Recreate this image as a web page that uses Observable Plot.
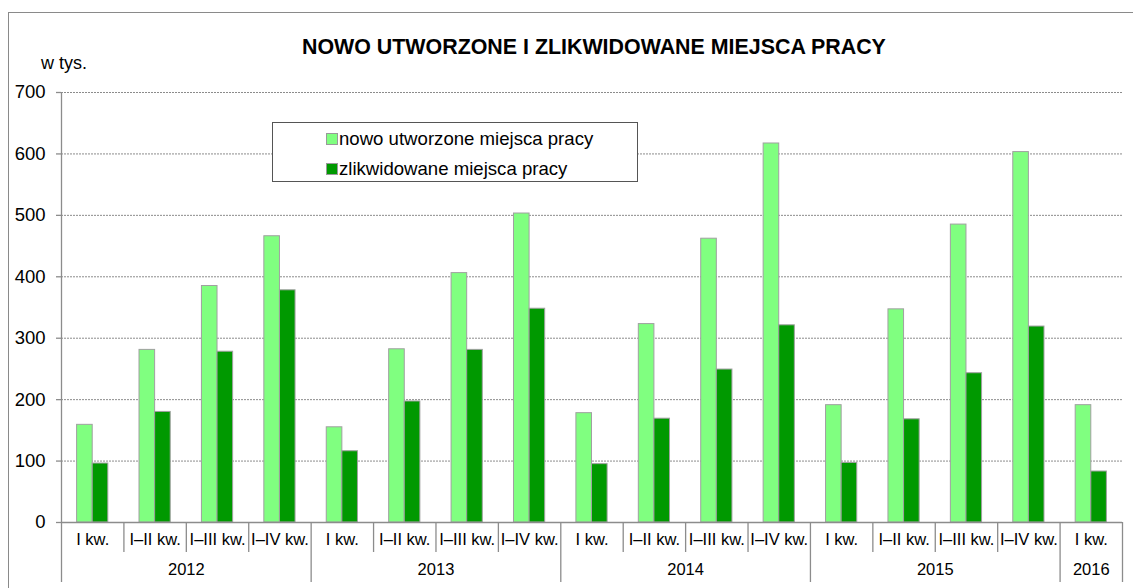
<!DOCTYPE html>
<html>
<head>
<meta charset="utf-8">
<script src="https://cdn.jsdelivr.net/npm/d3@7"></script>
<script src="https://cdn.jsdelivr.net/npm/@observablehq/plot@0.6"></script>
<style>
  html, body { margin: 0; padding: 0; background: #fff; }
  #wrap { position: relative; width: 1133px; height: 588px; overflow: hidden; font-family: "Liberation Sans", Arial, sans-serif; }
  #outer { position: absolute; left: 8px; top: 12px; width: 1200px; height: 700px; border-top: 1.5px solid #8a8a8a; border-left: 1.5px solid #8a8a8a; }
  .abs { position: absolute; white-space: nowrap; line-height: 1; }
  #title { left: 302px; top: 37px; font-size: 21.4px; font-weight: bold; }
  #unit { left: 41px; top: 54px; font-size: 18px; }
  #legend { left: 272px; top: 122px; width: 364px; height: 58px; border: 1.3px solid #555; background: #fff; }
  .sw { position: absolute; width: 10px; height: 10px; border: 1px solid #999; }
  .lt { position: absolute; font-size: 18.6px; line-height: 1; white-space: nowrap; }
  #chart { position: absolute; left: 0; top: 0; }
</style>
</head>
<body>
<div id="wrap">
  <div id="outer"></div>
  <div id="chart"></div>
  <div id="title" class="abs"></div>
  <div id="unit" class="abs"></div>
  <div id="legend" class="abs"></div>
</div>
<script>
const titleText = "NOWO UTWORZONE I ZLIKWIDOWANE MIEJSCA PRACY";
const unitText = "w tys.";
const seriesNames = ["nowo utworzone miejsca pracy", "zlikwidowane miejsca pracy"];
const seriesColors = ["#80ff80", "#009900"];
const quarterLabels = ["I kw.", "I–II kw.", "I–III kw.", "I–IV kw.",
  "I kw.", "I–II kw.", "I–III kw.", "I–IV kw.",
  "I kw.", "I–II kw.", "I–III kw.", "I–IV kw.",
  "I kw.", "I–II kw.", "I–III kw.", "I–IV kw.",
  "I kw."];
const yearLabels = ["2012", "2013", "2014", "2015", "2016"];
const yearCounts = [4, 4, 4, 4, 1];
const nowo = [159, 281, 385, 466, 155, 282, 406, 503, 178, 323, 462, 617, 191, 347, 485, 603, 191];
const zlikw = [96, 180, 278, 378, 116, 197, 281, 348, 95, 169, 249, 321, 97, 168, 243, 319, 83];
const yTicks = [0, 100, 200, 300, 400, 500, 600, 700];

// Build tables
const rows = quarterLabels.map((q, i) => ({i, q, nowo: nowo[i], zlikw: zlikw[i]}));
const years = [];
let start = 0;
yearLabels.forEach((y, k) => { years.push({year: y, start, end: start + yearCounts[k]}); start += yearCounts[k]; });
const yearBounds = [0, ...years.map(d => d.end)];
const allBounds = d3.range(0, quarterLabels.length + 1);
const quarterBounds = allBounds.filter(b => !yearBounds.includes(b));

document.getElementById("title").textContent = titleText;
document.getElementById("unit").textContent = unitText;
const legend = document.getElementById("legend");
seriesNames.forEach((name, k) => {
  const sw = document.createElement("div");
  sw.className = "sw";
  sw.style.left = "53px";
  sw.style.top = (10 + k * 30) + "px";
  sw.style.background = seriesColors[k];
  legend.appendChild(sw);
  const t = document.createElement("div");
  t.className = "lt";
  t.style.left = "66px";
  t.style.top = (7 + k * 30) + "px";
  t.textContent = name;
  legend.appendChild(t);
});

const chart = Plot.plot({
  width: 1133,
  height: 588,
  marginLeft: 61,
  marginRight: 11,
  marginTop: 92,
  marginBottom: 66,
  style: {fontFamily: "'Liberation Sans', Arial, sans-serif", fontSize: "18px", color: "#000", background: "transparent", overflow: "visible"},
  x: {type: "linear", domain: [0, quarterLabels.length], axis: null},
  y: {domain: [0, 700], axis: null},
  marks: [
    Plot.ruleY(yTicks.filter(d => d > 0), {y: d => d, stroke: "#8c8c8c", strokeDasharray: "2,1", strokeWidth: 1}),
    Plot.rectY(rows, {x1: d => d.i + 0.25, x2: d => d.i + 0.5, y1: 0, y2: d => d.nowo, fill: seriesColors[0], stroke: "#a0a0a0", strokeWidth: 1}),
    Plot.rectY(rows, {x1: d => d.i + 0.5, x2: d => d.i + 0.75, y1: 0, y2: d => d.zlikw, fill: seriesColors[1], stroke: "#a0a0a0", strokeWidth: 1}),
    Plot.ruleY([0], {stroke: "#8c8c8c", strokeWidth: 1.3}),
    Plot.ruleX([0], {y1: 0, y2: 700, stroke: "#8c8c8c", strokeWidth: 1.3}),
    Plot.ruleY(yTicks, {y: d => d, x1: 0, x2: 0, insetLeft: -5, stroke: "#8c8c8c", strokeWidth: 1.3}),
    Plot.text(yTicks, {y: d => d, text: d => String(d), frameAnchor: "left", textAnchor: "end", dx: -16, fontSize: 18.5, fill: "#000"}),
    Plot.ruleX(quarterBounds, {x: d => d, y1: 0, y2: 0, insetBottom: -30, stroke: "#8c8c8c", strokeWidth: 1.3}),
    Plot.ruleX(yearBounds, {x: d => d, y1: 0, y2: 0, insetBottom: -60, stroke: "#8c8c8c", strokeWidth: 1.3}),
    Plot.text(rows, {x: d => d.i + 0.5, text: d => d.q, frameAnchor: "bottom", dy: 22, fontSize: 16.5, fill: "#000"}),
    Plot.text(years, {x: d => (d.start + d.end) / 2, text: d => d.year, frameAnchor: "bottom", dy: 52, fontSize: 16.5, fill: "#000"})
  ]
});
document.getElementById("chart").appendChild(chart);
</script>
</body>
</html>
